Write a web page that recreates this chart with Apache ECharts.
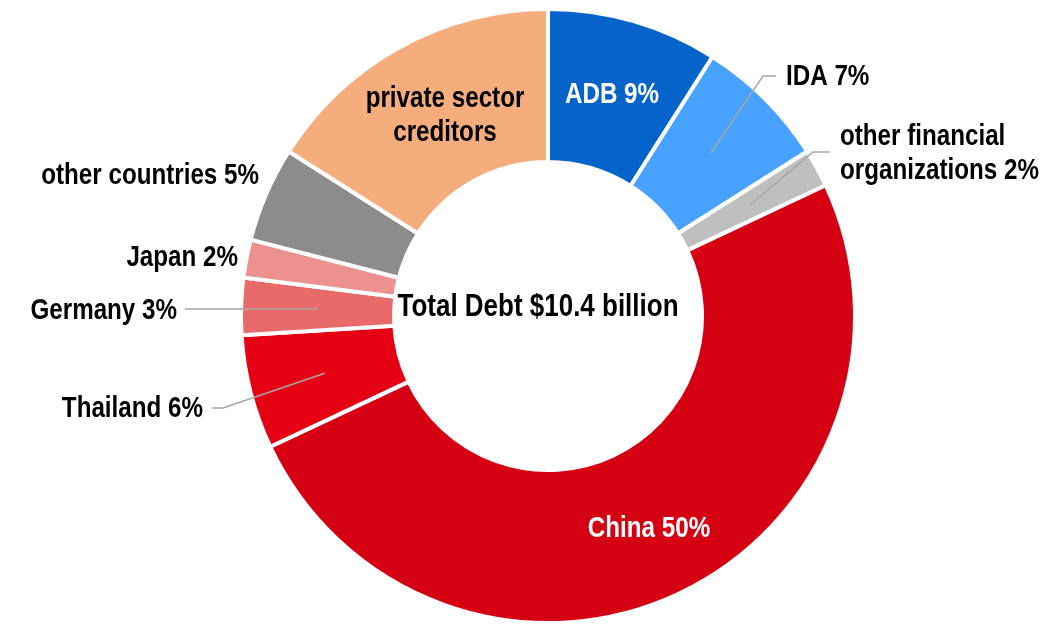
<!DOCTYPE html>
<html><head><meta charset="utf-8">
<script src="https://cdn.jsdelivr.net/npm/echarts@6/dist/echarts.min.js"></script>
<style>html,body{margin:0;padding:0;background:#fff}#c{width:1063px;height:627px}</style>
</head><body><div id="c"></div>
<script>
// ---- data ----
const categories = ['ADB','IDA','other financial organizations','China','Thailand','Germany','Japan','other countries','private sector creditors'];
const shares = [9, 7, 2, 50, 6, 3, 2, 5, 16];
const labelTexts = ['ADB 9%','IDA 7%','other financial\norganizations 2%','China 50%','Thailand 6%','Germany 3%','Japan 2%','other countries 5%','private sector\ncreditors'];
const centerTitle = 'Total Debt $10.4 billion';

// ---- style / layout ----
const colors = ['#0563C9','#47A3FF','#BFBFBF','#D50012','#E60013','#E96A6B','#EC9090','#8C8C8C','#F5AD7D'];
const labelColors = ['#fff','#000','#000','#fff','#000','#000','#000','#000','#000'];
const labelPos = ['inside','outside','outside','inside','outside','outside','outside','outside','inside'];
const hasLine = [false,true,true,false,true,true,false,false,false];
const FONT = "'Liberation Sans','Arial',sans-serif";
const NARROW = 0.82; // Arial Narrow ~ 82% of Arial width
const CX = 548, CY = 316, R0 = 154, R1 = 307, BW = 4;
const RM = (R0 + R1) / 2;
// label anchor + leader line geometry (pixel layout)
const place = [
  {x:612, y:95,  align:'center'},
  {x:786, y:77,  align:'left',  elbow:[763,76],  end:[776,76]},
  {x:840, y:154, align:'left',  elbow:[813,152], end:[830,152]},
  {x:649, y:529, align:'center'},
  {x:203, y:409, align:'right', elbow:[223,408], end:[212,408]},
  {x:177, y:311, align:'right', elbow:[250,309], end:[185,309]},
  {x:238, y:258, align:'right'},
  {x:259, y:176, align:'right'},
  {x:445, y:116, align:'center'}
];
const total = shares.reduce((a,b)=>a+b,0);
const midAngle = [];
let acc = 0;
shares.forEach(v => { midAngle.push((acc + v/2) / total * 2 * Math.PI); acc += v; });

const data = categories.map((name, i) => ({
  name: name,
  value: shares[i],
  itemStyle: {color: colors[i]},
  label: {position: labelPos[i], color: labelColors[i], formatter: labelTexts[i]},
  labelLine: {show: hasLine[i]}
}));

const chart = echarts.init(document.getElementById('c'), null, {renderer: 'canvas'});
chart.setOption({
  animation: false,
  backgroundColor: '#fff',
  graphic: [{
    type: 'text', z: 100, x: 538, y: 307, scaleX: NARROW,
    style: {text: centerTitle, x: 0, y: 0, align: 'center', verticalAlign: 'middle',
            font: "bold 31.7px " + FONT, fill: '#000'}
  }],
  series: [{
    type: 'pie',
    center: [CX, CY],
    radius: [R0, R1],
    startAngle: 90,
    clockwise: true,
    avoidLabelOverlap: false,
    silent: true,
    emphasis: {disabled: true},
    itemStyle: {borderColor: '#fff', borderWidth: BW},
    label: {fontFamily: FONT, fontWeight: 'bold', fontSize: 29.5, lineHeight: 34},
    labelLine: {lineStyle: {color: '#A6A6A6', width: 1.5}},
    labelLayout: function (p) {
      const i = p.dataIndex, pl = place[i];
      const out = {x: pl.x, y: pl.y, align: pl.align, verticalAlign: 'middle', hideOverlap: false};
      if (pl.elbow) {
        const a = midAngle[i];
        const s = [CX + RM * Math.sin(a), CY - RM * Math.cos(a)];
        out.labelLinePoints = [s, pl.elbow, pl.end];
      }
      return out;
    },
    data: data
  }]
});

// condense label text horizontally (Arial Narrow look) and lift leader lines above the ring
const sData = chart.getModel().getSeriesByIndex(0).getData();
sData.each(function (i) {
  const el = sData.getItemGraphicEl(i);
  if (!el) return;
  const t = el.getTextContent && el.getTextContent();
  if (t) { t.scaleX = NARROW; t.markRedraw(); }
  const g = el.getTextGuideLine && el.getTextGuideLine();
  if (g) { g.z2 = 1000; g.markRedraw(); }
  el.markRedraw();
});
chart.getZr().refreshImmediately();
</script></body></html>
